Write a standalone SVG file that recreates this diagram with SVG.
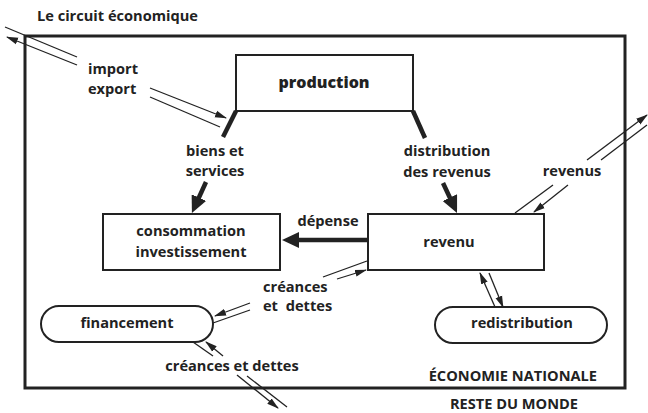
<svg xmlns="http://www.w3.org/2000/svg" width="648" height="413" viewBox="0 0 648 413">
<style>
text{font-family:"Open Sans","Liberation Sans",sans-serif;font-size:14.6px;font-weight:700;fill:#222}
.c{text-anchor:middle}
.box{fill:#fff;stroke:#222;stroke-width:2}
.thick{stroke:#222;stroke-width:4.5;fill:none}
.thin{stroke:#222;stroke-width:1.3;fill:none}
.ta{stroke:#222;stroke-width:1.3;fill:none;marker-end:url(#ah)}
.tk{stroke:#222;stroke-width:4.5;fill:none;marker-end:url(#ahk)}
</style>
<defs>
<marker id="ahk" markerUnits="userSpaceOnUse" markerWidth="17" markerHeight="16" refX="3" refY="8" orient="auto" viewBox="0 0 17 16"><path d="M0,0 L17,8 L0,16 z" fill="#222"/></marker>
<marker id="ah" markerUnits="userSpaceOnUse" markerWidth="12" markerHeight="8" refX="11" refY="4" orient="auto" viewBox="0 0 12 8"><path d="M0,0.5 L12,4 L0,7.5 z" fill="#222"/></marker>
</defs>
<text x="37" y="21">Le circuit économique</text>
<g id="economie-nationale">
<rect x="25" y="36" width="600" height="352" fill="none" stroke="#222" stroke-width="3"/>
<text x="597" y="381" style="text-anchor:end">ÉCONOMIE NATIONALE</text>
</g>
<text class="c" x="514" y="409">RESTE DU MONDE</text>
<g id="production"><rect class="box" x="236" y="55" width="177" height="56"/><text class="c" x="324" y="88" style="font-weight:800;font-size:16px">production</text></g>
<g id="consommation"><rect class="box" x="103" y="214" width="177" height="56"/><text class="c" x="191" y="236">consommation</text><text class="c" x="191" y="257">investissement</text></g>
<g id="revenu"><rect class="box" x="368" y="214" width="176" height="56"/><text class="c" x="449" y="247">revenu</text></g>
<g id="financement"><rect class="box" x="41" y="306" width="172" height="36" rx="18"/><text class="c" x="127" y="328">financement</text></g>
<g id="redistribution"><rect class="box" x="435" y="307" width="172" height="36" rx="18"/><text class="c" x="522" y="328">redistribution</text></g>
<g id="connectors">
<line class="thick" x1="236" y1="111" x2="223" y2="137"/>
<line class="tk" x1="206" y1="182" x2="197.7" y2="200.3"/>
<line class="thick" x1="413" y1="111" x2="425" y2="138"/>
<line class="tk" x1="443" y1="183" x2="451.1" y2="200.3"/>
<line class="tk" x1="368" y1="240" x2="296" y2="240"/>
<line class="thin" x1="5" y1="27" x2="77" y2="57"/>
<line class="ta" x1="77" y1="65" x2="7" y2="37"/>
<line class="ta" x1="150" y1="88" x2="226" y2="118"/>
<line class="thin" x1="150" y1="97" x2="220" y2="127"/>
<line class="thin" x1="515" y1="213" x2="553" y2="185"/>
<line class="ta" x1="587" y1="160" x2="647" y2="115"/>
<line class="thin" x1="647" y1="125" x2="601" y2="160"/>
<line class="ta" x1="568" y1="185" x2="534" y2="212"/>
<line class="thin" x1="367" y1="261" x2="323" y2="277"/>
<line class="ta" x1="250" y1="303" x2="215" y2="316"/>
<line class="thin" x1="213" y1="323" x2="250" y2="310"/>
<line class="ta" x1="337" y1="279" x2="366" y2="270"/>
<line class="thin" x1="193" y1="342" x2="213" y2="356"/>
<line class="ta" x1="237" y1="375" x2="278" y2="408"/>
<line class="thin" x1="287" y1="407" x2="247" y2="376"/>
<line class="ta" x1="223" y1="356" x2="206" y2="342"/>
<line class="ta" x1="495" y1="307" x2="480" y2="273"/>
<line class="ta" x1="489" y1="273" x2="503" y2="307"/>
<text x="88" y="74">import</text>
<text x="88" y="94">export</text>
<text class="c" x="215" y="156">biens et</text>
<text class="c" x="215" y="176">services</text>
<text class="c" x="447" y="156">distribution</text>
<text class="c" x="447" y="177">des revenus</text>
<text class="c" x="572" y="176">revenus</text>
<text class="c" x="328" y="226">dépense</text>
<text x="263" y="292">créances</text>
<text x="263" y="311" style="word-spacing:4px">et dettes</text>
<text class="c" x="232" y="371">créances et dettes</text>
</g>
</svg>
